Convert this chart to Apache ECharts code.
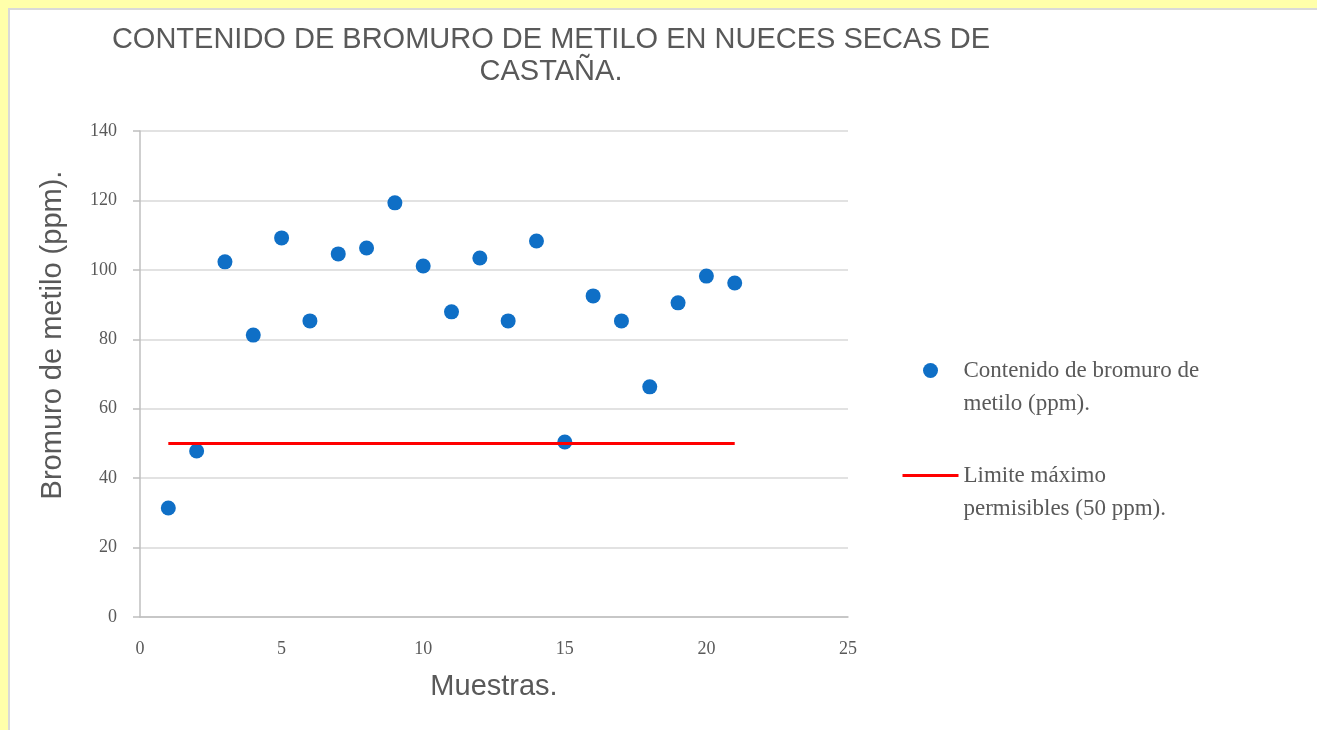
<!DOCTYPE html>
<html>
<head>
<meta charset="utf-8">
<script src="https://cdn.jsdelivr.net/npm/echarts@6/dist/echarts.min.js"></script>
<style>
  html, body { margin: 0; padding: 0; background: #FFFFAA; }
  #panel {
    position: absolute; left: 8px; top: 8px; width: 1320px; height: 740px;
    background: #fff; border-left: 2px solid #D9D9D9; border-top: 2px solid #D9D9D9;
  }
  #chart { position: absolute; left: 0; top: 0; width: 1317px; height: 730px; }
</style>
</head>
<body>
<div id="panel"></div>
<div id="chart"></div>
<script>
// muestras y contenido
const muestras = [1, 2, 3, 4, 5, 6, 7, 8, 9, 10, 11, 12, 13, 14, 15, 16, 17, 18, 19, 20, 21]
const bromuro = [31.4, 47.8, 102.3, 81.2, 109.2, 85.3, 104.6, 106.3, 119.3, 101.1, 87.9,
  103.4, 85.3, 108.3, 50.4, 92.5, 85.3, 66.3, 90.5, 98.2, 96.2]
const limiteX = [1, 21]
const limiteY = [50, 50]

const serieNombre = ' \nContenido de bromuro de\nmetilo (ppm).'
const limiteNombre = ' \nLimite máximo\npermisibles (50 ppm).'

const gris = '#595959'
const serif = '"Liberation Serif", "DejaVu Serif", serif'
const sans = '"Liberation Sans", Arial, sans-serif'

const chart = echarts.init(document.getElementById('chart'))
chart.setOption({
  animation: false,
  title: {
    text: 'CONTENIDO DE BROMURO DE METILO EN NUECES SECAS DE\nCASTAÑA.',
    left: 546,
    top: 19,
    textAlign: 'center',
    textStyle: {
      fontFamily: sans, fontSize: 29, fontWeight: 'normal',
      color: gris, lineHeight: 32, align: 'center',
    },
  },
  legend: {
    orient: 'vertical',
    left: 901,
    top: 321,
    padding: 0,
    itemWidth: 56,
    itemHeight: 15,
    itemGap: 6,
    textStyle: { fontFamily: serif, fontSize: 23, color: gris, lineHeight: 33 },
    data: [
      { name: serieNombre },
      { name: limiteNombre, itemStyle: { opacity: 0 }, lineStyle: { width: 3 } },
    ],
  },
  grid: { left: 140, right: 469, top: 131, bottom: 113 },
  xAxis: {
    type: 'value',
    min: 0, max: 25, interval: 5,
    name: 'Muestras.',
    nameLocation: 'middle',
    nameGap: 55,
    nameTextStyle: { fontFamily: sans, fontSize: 29, color: gris },
    axisLine: { lineStyle: { color: '#BFBFBF', width: 1.5 } },
    axisTick: { show: false },
    axisLabel: { margin: 23, fontFamily: serif, fontSize: 18, color: gris },
    splitLine: { show: false },
  },
  yAxis: {
    type: 'value',
    min: 0, max: 140, interval: 20,
    name: 'Bromuro de metilo (ppm).',
    nameLocation: 'middle',
    nameGap: 73,
    nameTextStyle: { fontFamily: sans, fontSize: 29, color: gris, padding: [0, 0, 0, 78] },
    axisLine: { show: true, lineStyle: { color: '#BFBFBF', width: 1.5 } },
    axisTick: { show: true, length: 7, lineStyle: { color: '#BFBFBF', width: 1.5 } },
    axisLabel: { margin: 23, fontFamily: serif, fontSize: 18, color: gris },
    splitLine: { lineStyle: { color: '#D9D9D9', width: 1.5 } },
  },
  series: [
    {
      name: serieNombre,
      type: 'scatter',
      symbolSize: 15,
      itemStyle: { color: '#0F6FC6', opacity: 1 },
      data: muestras.map((m, i) => [m, bromuro[i]]),
    },
    {
      name: limiteNombre,
      type: 'line',
      symbol: 'none',
      lineStyle: { color: '#FF0000', width: 3 },
      itemStyle: { color: '#FF0000' },
      data: limiteX.map((x, i) => [x, limiteY[i]]),
    },
  ],
})

window.onresize = () => chart.resize()
</script>
</body>
</html>
